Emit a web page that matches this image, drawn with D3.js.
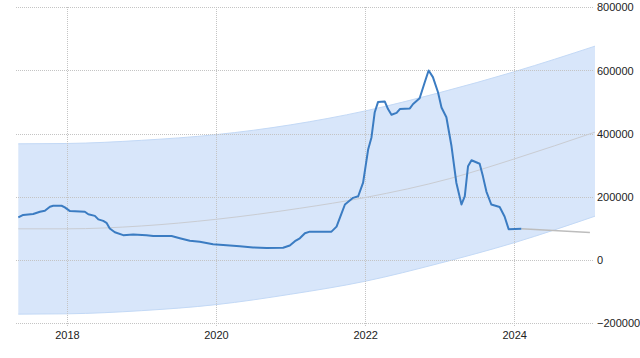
<!DOCTYPE html>
<html>
<head>
<meta charset="utf-8">
<script src="https://cdn.jsdelivr.net/npm/d3@7"></script>
<style>
  body { margin: 0; background: #fff; }
  text { font-family: "Liberation Sans", Arial, sans-serif; font-size: 11px; fill: #222; }
</style>
</head>
<body>
<div id="chart"></div>
<script>
// series
const dates = [
  "2017-05-08","2017-06-01","2017-07-20","2017-08-22","2017-09-15","2017-10-10","2017-10-26",
  "2017-12-06","2017-12-22","2018-01-16","2018-03-30","2018-04-16","2018-05-18","2018-06-04",
  "2018-06-28","2018-07-14","2018-07-30","2018-08-24","2018-10-04","2018-11-22","2019-01-26",
  "2019-02-28","2019-05-29","2019-07-08","2019-08-26","2019-10-14","2019-12-18","2020-02-22",
  "2020-04-27","2020-07-01","2020-09-05","2020-11-25","2020-12-28","2021-01-22","2021-02-15",
  "2021-03-12","2021-04-05","2021-07-20","2021-08-14","2021-09-07","2021-09-24","2021-11-03",
  "2021-11-28","2021-12-22","2022-01-16","2022-02-01","2022-02-17","2022-03-05","2022-04-07",
  "2022-04-23","2022-05-10","2022-06-04","2022-06-20","2022-08-08","2022-08-24","2022-09-25",
  "2022-10-20","2022-11-08","2022-11-29","2022-12-24","2023-01-10","2023-02-03","2023-02-28",
  "2023-03-24","2023-04-18","2023-05-04","2023-05-20","2023-06-06","2023-07-16","2023-08-01",
  "2023-08-18","2023-09-11","2023-10-22","2023-11-15","2023-12-05","2024-02-05"
];
const values = [
  135000,143000,146000,153000,156000,169000,172000,
  172000,167000,155000,153000,145000,140000,129000,
  124000,118000,100000,88000,79000,81000,79000,
  76000,76000,69000,61000,58000,50000,47000,
  44000,40000,38000,39000,46000,60000,69000,
  85000,90000,90000,106000,147000,176000,197000,
  202000,245000,351000,388000,468000,500000,502000,
  478000,460000,466000,478000,480000,494000,512000,
  563000,600000,579000,531000,483000,452000,361000,
  244000,176000,202000,297000,316000,305000,265000,
  217000,176000,168000,138000,98000,99000
];

// forecast (grey)
const forecastDates = ["2024-02-05", "2025-01-06"];
const forecastValues = [99000, 87000];

// trend and band
const bandDates = ["2017-05-08","2018-01-01","2019-01-01","2020-01-01","2021-01-01",
                   "2022-01-01","2023-01-01","2024-01-01","2025-01-31"];
const bandUpper = [368000,369000,379000,397000,428000,472000,530000,596000,677000];
const bandLower = [-171000,-170000,-160000,-141000,-108000,-67000,-10000,55000,139000];
const trendDates = ["2017-05-08","2018-01-01","2019-01-01","2020-01-01","2021-02-15",
                    "2022-01-01","2023-02-20","2024-01-01","2025-01-31"];
const trendValues = [99000,99000,108000,129000,164000,198000,258000,320000,405000];

const yTicks = [-200000, 0, 200000, 400000, 600000, 800000];
const xTicks = ["2018-01-01", "2020-01-01", "2022-01-01", "2024-01-01"];

const width = 640, height = 358;
const parse = d3.timeParse("%Y-%m-%d");

const svg = d3.select("#chart").append("svg")
  .attr("width", width)
  .attr("height", height);

const x = d3.scaleTime()
  .domain([parse("2017-05-08"), parse("2025-01-31")])
  .range([18.3, 595]);

const y = d3.scaleLinear()
  .domain([-200000, 800000])
  .range([323.3, 7.3]);

const band = bandDates.map((d, i) => ({ date: parse(d), hi: bandUpper[i], lo: bandLower[i] }));
const trend = trendDates.map((d, i) => ({ date: parse(d), v: trendValues[i] }));
const data = dates.map((d, i) => ({ date: parse(d), v: values[i] }));
const forecast = forecastDates.map((d, i) => ({ date: parse(d), v: forecastValues[i] }));

// band
svg.append("path")
  .datum(band)
  .attr("fill", "#d8e6fa")
  .attr("d", d3.area()
    .x(d => x(d.date))
    .y0(d => y(d.lo))
    .y1(d => y(d.hi))
    .curve(d3.curveMonotoneX));

["hi", "lo"].forEach(k => {
  svg.append("path")
    .datum(band)
    .attr("fill", "none")
    .attr("stroke", "#c3d9f6")
    .attr("stroke-width", 1)
    .attr("d", d3.line().x(d => x(d.date)).y(d => y(d[k])).curve(d3.curveMonotoneX));
});

// grid
const grid = svg.append("g")
  .attr("stroke", "#c4c4c4")
  .attr("stroke-width", 1)
  .attr("stroke-dasharray", "1,1");

grid.selectAll(".hg")
  .data(yTicks)
  .enter()
  .append("line")
  .attr("x1", 16)
  .attr("x2", 593)
  .attr("y1", d => Math.round(y(d)) + 0.5)
  .attr("y2", d => Math.round(y(d)) + 0.5);

grid.selectAll(".vg")
  .data(xTicks)
  .enter()
  .append("line")
  .attr("x1", d => Math.round(x(parse(d))) + 0.5)
  .attr("x2", d => Math.round(x(parse(d))) + 0.5)
  .attr("y1", 7)
  .attr("y2", 327);

// trend line
svg.append("path")
  .datum(trend)
  .attr("fill", "none")
  .attr("stroke", "#c9ccd2")
  .attr("stroke-width", 1)
  .attr("d", d3.line().x(d => x(d.date)).y(d => y(d.v)).curve(d3.curveMonotoneX));

// forecast line
svg.append("path")
  .datum(forecast)
  .attr("fill", "none")
  .attr("stroke", "#bdbdbd")
  .attr("stroke-width", 1.5)
  .attr("d", d3.line().x(d => x(d.date)).y(d => y(d.v)));

// main series
svg.append("path")
  .datum(data)
  .attr("fill", "none")
  .attr("stroke", "#3b7cc2")
  .attr("stroke-width", 2)
  .attr("stroke-linejoin", "round")
  .attr("d", d3.line().x(d => x(d.date)).y(d => y(d.v)));

// axes (labels only)
const yAxis = svg.append("g")
  .attr("transform", "translate(593,0)")
  .call(d3.axisRight(y).tickValues(yTicks).tickSize(0).tickPadding(4).tickFormat(d3.format("d")));
yAxis.select(".domain").remove();

const xAxis = svg.append("g")
  .attr("transform", "translate(0,327)")
  .call(d3.axisBottom(x).tickValues(xTicks.map(parse)).tickSize(0).tickPadding(4).tickFormat(d3.timeFormat("%Y")));
xAxis.select(".domain").remove();

svg.selectAll(".tick text")
  .attr("fill", "#222")
  .style("font-size", "11px")
  .style("font-family", "'Liberation Sans', Arial, sans-serif");
</script>
</body>
</html>
